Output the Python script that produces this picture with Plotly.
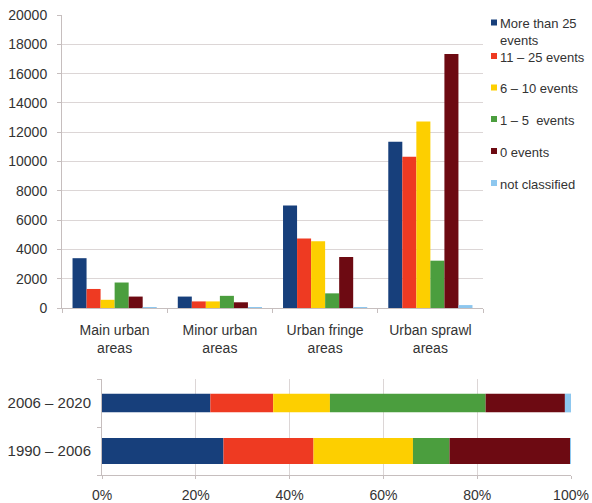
import numpy as np
import plotly.graph_objects as go

W, H = 592, 503

# ---------------- data ----------------
categories = ["Main urban<br>areas", "Minor urban<br>areas", "Urban fringe<br>areas", "Urban sprawl<br>areas"]
series_names = ["More than 25<br>events", "11 – 25 events", "6 – 10 events", "1 – 5  events", "0 events", "not classified"]

more_than_25 = [3400, 780, 7000, 11350]
events_11_25 = [1300, 450, 4750, 10330]
events_6_10 = [560, 450, 4560, 12730]
events_1_5 = [1740, 830, 1000, 3230]
events_0 = [780, 390, 3480, 17340]
not_classified = [30, 20, 60, 200]

periods = ["1990 – 2006", "2006 – 2020"]
share_more_than_25 = [25.9, 23.1]
share_11_25 = [19.2, 13.4]
share_6_10 = [21.2, 12.1]
share_1_5 = [7.8, 33.2]
share_0 = [25.7, 16.9]
share_not_classified = [0.2, 1.3]

y_ticks = [0, 2000, 4000, 6000, 8000, 10000, 12000, 14000, 16000, 18000, 20000]
pct_ticks = [0, 20, 40, 60, 80, 100]

colors = ["#173F7B", "#EE3A22", "#FDCF00", "#4B9E3E", "#6D0A12", "#8DC7EF"]

# ---------------- styling helpers ----------------
FONT = "Liberation Sans, Arial, sans-serif"
TXT = "#333333"
GRID = "#DCD6D6"
AXIS = "#C6BEBE"


def px(x):
    return x / W


def py(y):
    return 1 - y / H


top_series = [more_than_25, events_11_25, events_6_10, events_1_5, events_0, not_classified]
bottom_series = [share_more_than_25, share_11_25, share_6_10, share_1_5, share_0, share_not_classified]

fig = go.Figure()

for name, vals, col in zip(series_names, top_series, colors):
    fig.add_trace(go.Bar(x=categories, y=vals, name=name.replace("<br>", " "),
                         marker=dict(color=col, line=dict(width=0)),
                         xaxis="x", yaxis="y", showlegend=False))

bar_widths = [0.54, 0.39]
cum = np.zeros(len(periods))
for name, vals, col in zip(series_names, bottom_series, colors):
    vals = np.array(vals, dtype=float)
    fig.add_trace(go.Bar(y=periods, x=vals, base=cum.copy(), orientation="h",
                         name=name.replace("<br>", " "),
                         width=bar_widths, offset=[-w / 2 for w in bar_widths],
                         offsetgroup="share",
                         marker=dict(color=col, line=dict(width=0)),
                         xaxis="x2", yaxis="y2", showlegend=False))
    cum = cum + vals

# ---------------- custom legend ----------------
legend_y = [22.5, 56, 87.5, 119, 151, 183]
shapes = []
annotations = []
for name, col, ly in zip(series_names, colors, legend_y):
    shapes.append(dict(type="rect", xref="paper", yref="paper",
                       x0=px(491), x1=px(497), y0=py(ly + 3), y1=py(ly - 3),
                       fillcolor=col, line=dict(width=0)))
    annotations.append(dict(xref="paper", yref="paper", x=px(498), y=py(ly - 8),
                            xanchor="left", yanchor="top", align="left",
                            text=name, showarrow=False,
                            font=dict(family=FONT, size=13, color=TXT)))

fig.update_layout(
    width=W, height=H,
    margin=dict(l=0, r=0, t=0, b=0, autoexpand=False),
    paper_bgcolor="white", plot_bgcolor="white",
    barmode="group", bargap=0.2, bargroupgap=0,
    font=dict(family=FONT, size=14, color=TXT),
    showlegend=False,
    shapes=shapes, annotations=annotations,
    xaxis=dict(domain=[px(62), px(483)], anchor="y", automargin=False,
               showline=True, linecolor=AXIS, linewidth=1,
               ticks="outside", tickson="boundaries", ticklen=4, tickcolor=AXIS,
               showgrid=False, ticklabelstandoff=9,
               tickfont=dict(family=FONT, size=14, color=TXT)),
    yaxis=dict(domain=[py(308), py(15)], anchor="x", range=[0, 20000], automargin=False,
               tickvals=y_ticks, ticktext=[str(v) for v in y_ticks],
               showline=True, linecolor=AXIS, linewidth=1,
               ticks="outside", ticklen=4, tickcolor=AXIS,
               showgrid=True, gridcolor=GRID, gridwidth=1, zeroline=False,
               ticklabelstandoff=7,
               tickfont=dict(family=FONT, size=14, color=TXT)),
    xaxis2=dict(domain=[px(102), px(571)], anchor="y2", range=[0, 100], automargin=False,
                tickvals=pct_ticks, ticktext=[f"{v}%" for v in pct_ticks],
                showline=True, linecolor=AXIS, linewidth=1,
                ticks="outside", ticklen=3, tickcolor=AXIS,
                showgrid=True, gridcolor=GRID, gridwidth=1, zeroline=False,
                ticklabelstandoff=4,
                tickfont=dict(family=FONT, size=14, color=TXT)),
    yaxis2=dict(domain=[py(475), py(379)], anchor="x2", automargin=False,
                categoryorder="array", categoryarray=periods,
                showline=True, linecolor=AXIS, linewidth=1,
                ticks="outside", tickson="boundaries", ticklen=4, tickcolor=AXIS,
                showgrid=False, ticklabelstandoff=7,
                tickfont=dict(family=FONT, size=15, color=TXT)),
)

fig.write_html("out.html",
               config={"displayModeBar": False},
               post_script="document.body.style.margin='0';document.body.style.overflow='hidden';")
